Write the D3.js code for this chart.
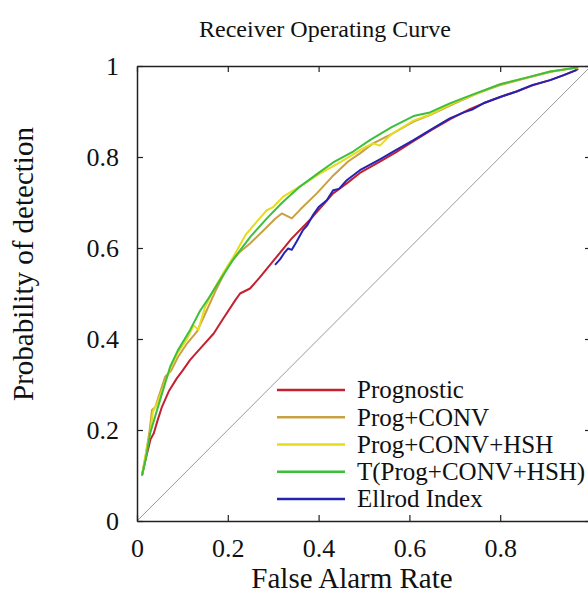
<!DOCTYPE html>
<html>
<head>
<meta charset="utf-8">
<script src="https://cdn.jsdelivr.net/npm/d3@7"></script>
<style>
  body { margin: 0; background: #fff; }
  text { font-family: "Liberation Serif", "Times New Roman", serif; fill: #111; }
</style>
</head>
<body>
<script>
// DATA ==============================================================
// each series is [false alarm rate, probability of detection]
var prognostic = [[0.011,0.10],[0.02,0.14],[0.03,0.18],[0.037,0.193],[0.045,0.22],[0.055,0.251],[0.07,0.285],[0.088,0.314],[0.10,0.33],[0.117,0.354],[0.14,0.38],[0.169,0.412],[0.19,0.445],[0.217,0.486],[0.227,0.50],[0.249,0.511],[0.27,0.535],[0.308,0.581],[0.34,0.62],[0.381,0.662],[0.41,0.695],[0.432,0.72],[0.462,0.742],[0.491,0.765],[0.535,0.79],[0.57,0.81],[0.609,0.835],[0.65,0.86],[0.69,0.883],[0.733,0.905],[0.763,0.918],[0.80,0.932],[0.836,0.944],[0.87,0.957],[0.91,0.969],[0.94,0.98],[0.972,0.993]];

var progConv = [[0.011,0.10],[0.02,0.15],[0.028,0.20],[0.033,0.244],[0.04,0.25],[0.05,0.28],[0.062,0.317],[0.075,0.33],[0.09,0.36],[0.11,0.39],[0.132,0.416],[0.15,0.455],[0.175,0.51],[0.2,0.56],[0.225,0.59],[0.249,0.61],[0.28,0.64],[0.305,0.665],[0.319,0.676],[0.341,0.665],[0.36,0.685],[0.396,0.72],[0.43,0.757],[0.465,0.79],[0.491,0.808],[0.52,0.83],[0.56,0.85],[0.609,0.878],[0.645,0.892],[0.70,0.918],[0.75,0.94],[0.80,0.958],[0.86,0.974],[0.91,0.987],[0.972,0.997]];

var progConvHsh = [[0.011,0.10],[0.02,0.15],[0.03,0.20],[0.035,0.24],[0.045,0.26],[0.06,0.30],[0.075,0.34],[0.09,0.37],[0.11,0.40],[0.125,0.43],[0.135,0.42],[0.15,0.47],[0.17,0.51],[0.19,0.545],[0.212,0.58],[0.24,0.63],[0.27,0.665],[0.286,0.683],[0.30,0.69],[0.322,0.713],[0.35,0.73],[0.40,0.762],[0.45,0.79],[0.5,0.82],[0.52,0.83],[0.535,0.825],[0.56,0.85],[0.609,0.88],[0.645,0.893],[0.70,0.92],[0.75,0.94],[0.80,0.96],[0.86,0.975],[0.91,0.988],[0.972,0.997]];

var tProgConvHsh = [[0.011,0.10],[0.02,0.14],[0.029,0.193],[0.04,0.23],[0.055,0.28],[0.073,0.339],[0.09,0.375],[0.117,0.42],[0.139,0.462],[0.158,0.49],[0.18,0.525],[0.212,0.575],[0.25,0.625],[0.286,0.665],[0.32,0.70],[0.359,0.735],[0.40,0.765],[0.432,0.788],[0.476,0.812],[0.513,0.837],[0.56,0.865],[0.609,0.89],[0.645,0.898],[0.689,0.918],[0.733,0.935],[0.80,0.96],[0.86,0.975],[0.91,0.988],[0.972,0.997]];

var ellrod = [[0.304,0.563],[0.315,0.575],[0.325,0.59],[0.333,0.599],[0.341,0.596],[0.352,0.615],[0.366,0.64],[0.375,0.65],[0.388,0.673],[0.40,0.69],[0.418,0.705],[0.432,0.727],[0.445,0.73],[0.462,0.749],[0.491,0.771],[0.535,0.795],[0.57,0.815],[0.609,0.837],[0.65,0.862],[0.689,0.885],[0.72,0.898],[0.74,0.905],[0.763,0.918],[0.80,0.932],[0.836,0.944],[0.87,0.958],[0.91,0.969],[0.94,0.98],[0.968,0.991]];

var seriesNames = ["Prognostic", "Prog+CONV", "Prog+CONV+HSH", "T(Prog+CONV+HSH)", "Ellrod Index"];
var seriesData = [prognostic, progConv, progConvHsh, tProgConvHsh, ellrod];
var seriesColors = ["#c42030", "#c9a043", "#e6dc1c", "#3cc03c", "#2424b4"];
var tickValues = [0, 0.2, 0.4, 0.6, 0.8, 1];

// ====================================================================

var width = 588, height = 604;
var margin = {left: 137, top: 66};
var plotW = 454, plotH = 455;

var svg = d3.select("body").append("svg")
    .attr("width", width)
    .attr("height", height);

var x = d3.scaleLinear().domain([0, 1]).range([margin.left, margin.left + plotW]);
var y = d3.scaleLinear().domain([0, 1]).range([margin.top + plotH, margin.top]);

// chance diagonal
svg.append("line")
    .attr("x1", x(0)).attr("y1", y(0))
    .attr("x2", x(1)).attr("y2", y(1))
    .attr("stroke", "#9a9a9a")
    .attr("stroke-width", 1);

var line = d3.line()
    .x(d => x(d[0]))
    .y(d => y(d[1]));

svg.selectAll("path.roc")
    .data(seriesData)
  .enter().append("path")
    .attr("class", "roc")
    .attr("d", line)
    .attr("fill", "none")
    .attr("stroke", (d, i) => seriesColors[i])
    .attr("stroke-width", 2)
    .attr("stroke-linejoin", "round");

// axes with inward ticks on all four sides
var tickLen = 6;
var axB = svg.append("g").attr("transform", "translate(0," + y(0) + ")")
    .call(d3.axisBottom(x).tickValues(tickValues).tickSizeInner(-tickLen).tickSizeOuter(0).tickPadding(18)
      .tickFormat(d => d === 1 ? "" : d3.format("")(d)));
var axT = svg.append("g").attr("transform", "translate(0," + y(1) + ")")
    .call(d3.axisTop(x).tickValues(tickValues).tickSizeInner(-tickLen).tickSizeOuter(0).tickFormat(""));
var axL = svg.append("g").attr("transform", "translate(" + x(0) + ",0)")
    .call(d3.axisLeft(y).tickValues(tickValues).tickSizeInner(-tickLen).tickSizeOuter(0).tickPadding(18)
      .tickFormat(d3.format("")));
var axR = svg.append("g").attr("transform", "translate(" + x(1) + ",0)")
    .call(d3.axisRight(y).tickValues(tickValues).tickSizeInner(-tickLen).tickSizeOuter(0).tickFormat(""));

[axB, axT, axL, axR].forEach(g => {
  g.selectAll("path.domain").attr("stroke", "#222").attr("stroke-width", 1.5);
  g.selectAll(".tick line").attr("stroke", "#222").attr("stroke-width", 1.2);
  g.selectAll(".tick text")
    .attr("font-family", "Liberation Serif, serif")
    .attr("font-size", 26)
    .attr("fill", "#111");
});
axB.selectAll(".tick text").attr("dy", "0.71em");
axL.selectAll(".tick text").attr("dy", "0.32em");

// titles
svg.append("text")
    .attr("x", 325).attr("y", 37)
    .attr("text-anchor", "middle")
    .attr("font-size", 24)
    .text("Receiver Operating Curve");

svg.append("text")
    .attr("x", 352).attr("y", 588)
    .attr("text-anchor", "middle")
    .attr("font-size", 29)
    .text("False Alarm Rate");

svg.append("text")
    .attr("transform", "translate(33,264) rotate(-90)")
    .attr("text-anchor", "middle")
    .attr("font-size", 29)
    .text("Probability of detection");

// legend
var legend = svg.append("g");
var legendY = d3.scalePoint().domain(seriesNames).range([390, 499]);

legend.selectAll("line")
    .data(seriesNames)
  .enter().append("line")
    .attr("x1", 277).attr("x2", 345)
    .attr("y1", d => legendY(d)).attr("y2", d => legendY(d))
    .attr("stroke", (d, i) => seriesColors[i])
    .attr("stroke-width", 2.5);

legend.selectAll("text")
    .data(seriesNames)
  .enter().append("text")
    .attr("x", 357)
    .attr("y", d => legendY(d))
    .attr("dy", "0.33em")
    .attr("font-size", 25)
    .text(d => d);
</script>
</body>
</html>
